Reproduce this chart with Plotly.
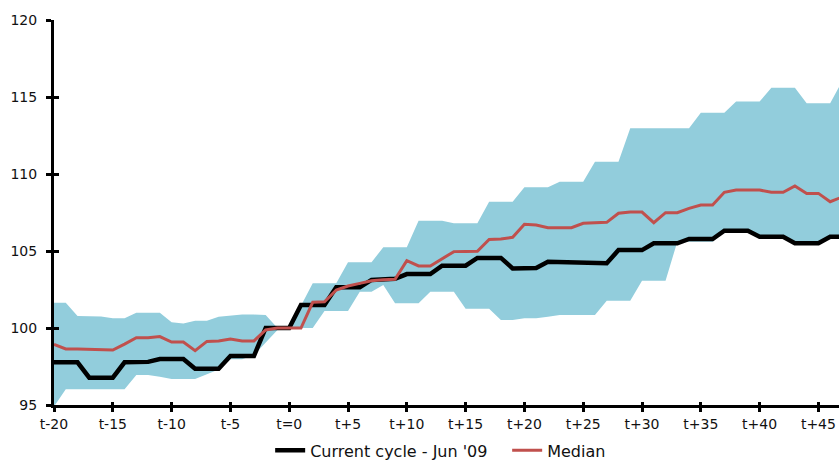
import plotly.graph_objects as go

# Months relative to the cycle trough (t=0)
t = list(range(-20, 48))

current_cycle = [
    97.77, 97.77, 97.77, 96.77, 96.77, 96.77, 97.77, 97.77, 97.80, 97.99,
    97.99, 97.99, 97.36, 97.36, 97.36, 98.18, 98.18, 98.18, 100.00, 100.00,
    100.00, 101.50, 101.50, 101.50, 102.64, 102.64, 102.64, 103.12, 103.15, 103.20,
    103.50, 103.50, 103.50, 104.05, 104.05, 104.05, 104.55, 104.55, 104.55, 103.87,
    103.87, 103.90, 104.30, 104.28, 104.25, 104.22, 104.20, 104.20, 105.06, 105.06,
    105.06, 105.50, 105.50, 105.50, 105.78, 105.78, 105.78, 106.32, 106.32, 106.32,
    105.93, 105.93, 105.93, 105.50, 105.50, 105.50, 105.93, 105.93,
]

median = [
    98.94, 98.64, 98.64, 98.62, 98.57, 98.57, 98.95, 99.37, 99.37, 99.44,
    99.09, 99.09, 98.53, 99.13, 99.16, 99.29, 99.16, 99.16, 99.87, 100.00,
    100.00, 100.00, 101.67, 101.70, 102.47, 102.73, 102.90, 103.07, 103.14, 103.16,
    104.37, 104.03, 104.03, 104.48, 104.96, 104.97, 104.98, 105.75, 105.78, 105.89,
    106.73, 106.69, 106.51, 106.51, 106.51, 106.80, 106.84, 106.86, 107.45, 107.53,
    107.53, 106.84, 107.49, 107.49, 107.77, 107.99, 107.99, 108.81, 108.96, 108.96,
    108.96, 108.81, 108.81, 109.22, 108.74, 108.74, 108.20, 108.50,
]

band_upper = [
    101.64, 101.64, 100.78, 100.78, 100.75, 100.63, 100.63, 100.99, 100.99, 100.99,
    100.37, 100.30, 100.47, 100.47, 100.73, 100.82, 100.87, 100.87, 100.85, 100.00,
    100.00, 101.45, 102.90, 102.90, 102.90, 104.27, 104.27, 104.27, 105.24, 105.24,
    105.24, 106.97, 106.97, 106.97, 106.80, 106.80, 106.80, 108.20, 108.20, 108.20,
    109.14, 109.14, 109.14, 109.50, 109.50, 109.50, 110.80, 110.80, 110.80, 112.97,
    112.97, 112.97, 112.97, 112.97, 112.97, 113.98, 113.98, 113.98, 114.70, 114.70,
    114.70, 115.60, 115.60, 115.60, 114.59, 114.59, 114.59, 116.00,
]

band_lower = [
    94.90, 96.02, 96.02, 96.02, 96.02, 96.02, 96.02, 96.95, 96.95, 96.84,
    96.69, 96.69, 96.69, 97.00, 97.30, 97.97, 97.97, 98.25, 99.05, 99.87,
    100.00, 100.00, 100.00, 101.10, 101.10, 101.10, 102.36, 102.36, 102.80, 101.60,
    101.60, 101.60, 102.36, 102.36, 102.36, 101.25, 101.25, 101.25, 100.52, 100.52,
    100.63, 100.63, 100.73, 100.85, 100.85, 100.85, 100.85, 101.77, 101.77, 101.77,
    103.07, 103.07, 103.07, 105.60, 105.60, 105.60, 105.60, 106.30, 106.30, 106.30,
    105.90, 105.90, 105.90, 105.50, 105.50, 105.50, 105.90, 105.90,
]

tick_vals = list(range(-20, 50, 5))
tick_text = ["t-20", "t-15", "t-10", "t-5", "t=0", "t+5", "t+10", "t+15",
             "t+20", "t+25", "t+30", "t+35", "t+40", "t+45"]
y_ticks = [95, 100, 105, 110, 115, 120]

BAND = "#92CDDC"
RED = "#C0504D"
FONT = "DejaVu Sans, sans-serif"

fig = go.Figure()

# Range band (lower edge, then upper edge filled down to it)
fig.add_trace(go.Scatter(x=t, y=band_lower, mode="lines", line=dict(width=0, color=BAND),
                         showlegend=False, hoverinfo="skip"))
fig.add_trace(go.Scatter(x=t, y=band_upper, mode="lines", line=dict(width=0, color=BAND),
                         fill="tonexty", fillcolor=BAND, showlegend=False, hoverinfo="skip"))

fig.add_trace(go.Scatter(x=t, y=current_cycle, mode="lines", name="Current cycle - Jun '09",
                         line=dict(color="#000000", width=4.5)))
fig.add_trace(go.Scatter(x=t, y=median, mode="lines", name="Median",
                         line=dict(color=RED, width=3)))

# Inner half of the cross-shaped tick marks, drawn on overlaid axes
fig.add_trace(go.Scatter(x=[t[0]], y=[y_ticks[0]], xaxis="x2", yaxis="y2", mode="markers",
                         marker=dict(opacity=0), showlegend=False, hoverinfo="skip"))

fig.update_layout(
    width=839, height=462,
    margin=dict(l=54, r=0, t=20, b=57, autoexpand=False),
    paper_bgcolor="white", plot_bgcolor="white",
    font=dict(family=FONT, size=14, color="#111111"),
    showlegend=True,
    legend=dict(orientation="h", xref="container", x=0.322, xanchor="left",
                yref="container", y=0.025, yanchor="middle",
                traceorder="normal",
                font=dict(family=FONT, size=16, color="#111111"),
                itemwidth=30, entrywidth=192, entrywidthmode="pixels",
                tracegroupgap=0, bgcolor="rgba(0,0,0,0)"),
    xaxis=dict(range=[-20, 46.75], tickvals=tick_vals, ticktext=tick_text,
               showgrid=False, zeroline=False, showline=True, linecolor="#000000", linewidth=3,
               ticks="outside", ticklen=4, tickwidth=3, tickcolor="#000000",
               automargin=False),
    yaxis=dict(range=[95, 120], tickvals=y_ticks, showgrid=False, zeroline=False,
               showline=True, linecolor="#000000", linewidth=3,
               ticks="outside", ticklen=5, tickwidth=3, tickcolor="#000000",
               ticklabelstandoff=6, automargin=False),
    xaxis2=dict(range=[-20, 46.75], tickvals=tick_vals, overlaying="x", showgrid=False,
                zeroline=False, showline=False, showticklabels=False,
                ticks="inside", ticklen=3, tickwidth=3, tickcolor="#000000", anchor="y2", side="bottom"),
    yaxis2=dict(range=[95, 120], tickvals=y_ticks, overlaying="y", showgrid=False,
                zeroline=False, showline=False, showticklabels=False,
                ticks="inside", ticklen=5, tickwidth=3, tickcolor="#000000", anchor="x2", side="left"),
)

fig.write_html("out.html")
